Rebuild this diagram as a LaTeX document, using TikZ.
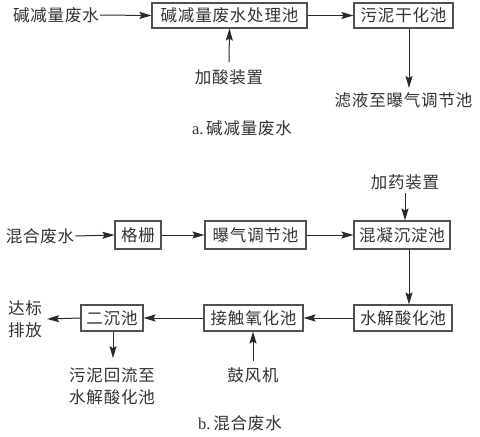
\documentclass[tikz,border=0pt]{standalone}
\usepackage{fontspec}
\setmainfont{Liberation Serif}
\newfontfamily\cjk[LetterSpace=5]{Noto Sans CJK SC}
\usetikzlibrary{arrows.meta}
\definecolor{boxc}{HTML}{505050}
\definecolor{txtc}{HTML}{333333}
\definecolor{linec}{HTML}{2A2A2A}
\begin{document}
\begin{tikzpicture}[x=1pt,y=-1pt,
  box/.style={draw=boxc, line width=1.1pt, minimum height=25pt, inner sep=0pt, text=txtc,
    font=\cjk\fontsize{16.5}{22}\selectfont},
  lbl/.style={inner sep=0pt, text=txtc, align=center, font=\cjk\fontsize{16.5}{22}\selectfont},
  arr/.style={draw=linec, line width=1pt, -{Stealth[length=12pt,width=7pt,inset=2pt]}}]
\useasboundingbox[fill=white] (0,0) rectangle (480,437);
% ---- a ----
\node[lbl] (a0) at (56,15) {碱减量废水};
\node[box, minimum width=155pt] (a1) at (229.5,15.5) {碱减量废水处理池};
\node[box, minimum width=99pt] (a2) at (403.5,15.5) {污泥干化池};
\node[lbl] (a3) at (229,77) {加酸装置};
\node[lbl] (a4) at (403.5,100) {滤液至曝气调节池};
\node[lbl] (ca) at (242,128) {{\rmfamily\fontsize{16.5}{20}\selectfont a.}\,碱减量废水};
\coordinate (a4t) at (409,88);
\draw[arr] ([xshift=1pt]a0.east) -- (a1.west);
\draw[arr] (a1) -- (a2);
\draw[arr] ([yshift=7pt]a3.north) -- (a1.south);
\draw[arr] (a2.south -| a4t) -- (a4t);
% ---- b ----
\node[lbl] (b0) at (40,236) {混合废水};
\node[box, minimum width=46pt, minimum height=28pt] (b1) at (138,235) {格栅};
\node[box, minimum width=101pt, minimum height=28pt] (b2) at (255.5,235) {曝气调节池};
\node[box, minimum width=96pt, minimum height=28pt] (b3) at (402,235) {混凝沉淀池};
\node[lbl] (b4) at (405,182) {加药装置};
\node[box, minimum width=98pt, minimum height=26pt] (b5) at (403,318) {水解酸化池};
\node[box, minimum width=99pt, minimum height=26pt] (b6) at (253.5,318) {接触氧化池};
\node[box, minimum width=62pt, minimum height=26pt] (b7) at (112,318) {二沉池};
\node[lbl] (b8) at (25,319) {达标\\排放};
\node[lbl] (b9) at (112,386) {污泥回流至\\水解酸化池};
\node[lbl] (b10) at (253,375) {鼓风机};
\node[lbl] (cb) at (240,423) {{\rmfamily\fontsize{16.5}{20}\selectfont b.}\,混合废水};
\coordinate (b3b) at (409,0);
\draw[arr] ([xshift=1pt]b0.east) -- (b1.west);
\draw[arr] (b1) -- (b2);
\draw[arr] (b2) -- (b3);
\draw[arr] ([yshift=-3pt]b4.south) -- (b4.south |- b3.north);
\draw[arr] (b3.south -| b3b) -- (b5.north -| b3b);
\draw[arr] (b5) -- (b6);
\draw[arr] (b6) -- (b7);
\draw[arr] (b7.west) -- ([xshift=5pt]b8.east);
\draw[arr] ([xshift=1pt]b7.south) -- ([xshift=1pt,yshift=9pt]b9.north);
\draw[arr] ([yshift=6pt]b10.north) -- (b10.north |- b6.south);
\end{tikzpicture}
\end{document}
